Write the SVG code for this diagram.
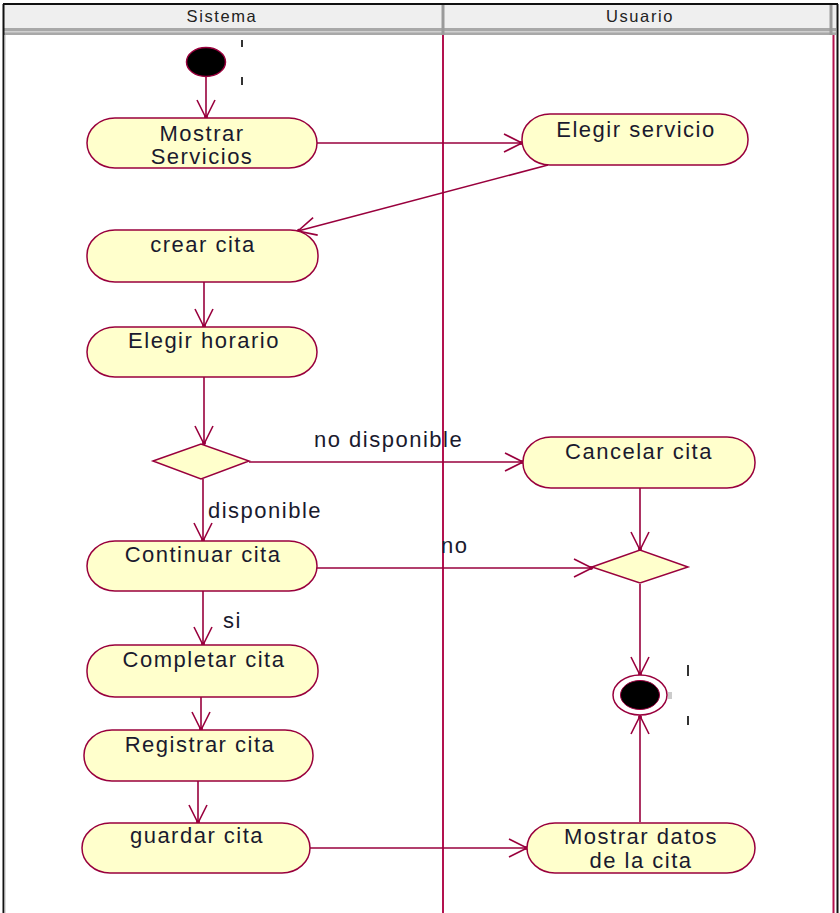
<svg xmlns="http://www.w3.org/2000/svg" width="840" height="913" viewBox="0 0 840 913">
  <style>
    .act { fill: #ffffcc; stroke: #99003d; stroke-width: 1.5; }
    .dec { fill: #ffffcc; stroke: #99003d; stroke-width: 1.5; }
    .lbl { font-family: "Liberation Sans", Arial, sans-serif; font-size: 22px; letter-spacing: 1.5px; fill: #1a1a2e; }
    .mid { text-anchor: middle; }
    .hdr { font-family: "Liberation Sans", Arial, sans-serif; font-size: 16.5px; letter-spacing: 1.6px; fill: #222; text-anchor: middle; }
    .flow { fill: none; stroke: #99003d; stroke-width: 1.6; }
    .tick { stroke: #333; stroke-width: 2; }
  </style>
  <defs>
    <marker id="open" markerUnits="userSpaceOnUse" markerWidth="24" markerHeight="24" viewBox="-20 -12 24 24" refX="0" refY="0" orient="auto">
      <path d="M-18,-9 L0,0 L-18,9" fill="none" stroke="#99003d" stroke-width="1.6"/>
      <circle cx="-1" cy="0" r="2" fill="#99003d"/>
    </marker>
  </defs>

  <rect width="840" height="913" fill="#ffffff"/>

  <!-- swimlane frame -->
  <g id="swimlanes">
    <rect x="4" y="5" width="832" height="24" fill="#efefef"/>
    <rect x="4" y="28" width="832" height="7" fill="#a8a8a8"/>
    <rect x="4" y="31" width="832" height="1.5" fill="#d0d0d0"/>
    <line x1="443" y1="5" x2="443" y2="35" stroke="#9a9a9a" stroke-width="3"/>
    <line x1="831" y1="5" x2="831" y2="35" stroke="#9a9a9a" stroke-width="3"/>
    <line x1="3" y1="4" x2="838" y2="4" stroke="#111" stroke-width="2"/>
    <line x1="3.5" y1="4" x2="3.5" y2="913" stroke="#111" stroke-width="2"/>
    <line x1="5" y1="35" x2="5" y2="913" stroke="#bbb" stroke-width="1"/>
    <line x1="837.5" y1="4" x2="837.5" y2="913" stroke="#111" stroke-width="2"/>
    <line x1="443" y1="35" x2="443" y2="913" stroke="#b3124f" stroke-width="2"/>
    <line x1="833.5" y1="35" x2="833.5" y2="913" stroke="#b3124f" stroke-width="2"/>
    <text class="hdr" x="222" y="22">Sistema</text>
    <text class="hdr" x="640" y="22">Usuario</text>
  </g>

  <!-- connectors -->
  <g id="connectors">
    <line class="flow" x1="206" y1="77" x2="206" y2="118" marker-end="url(#open)"/>
    <line class="flow" x1="317" y1="143" x2="522" y2="143" marker-end="url(#open)"/>
    <line class="flow" x1="548" y1="165" x2="298" y2="231" marker-end="url(#open)"/>
    <line class="flow" x1="204" y1="282" x2="204" y2="327" marker-end="url(#open)"/>
    <line class="flow" x1="204" y1="377" x2="204" y2="444" marker-end="url(#open)"/>
    <line class="flow" x1="249" y1="462" x2="523" y2="462" marker-end="url(#open)"/>
    <line class="flow" x1="203" y1="479" x2="203" y2="541" marker-end="url(#open)"/>
    <line class="flow" x1="317" y1="568" x2="592" y2="568" marker-end="url(#open)"/>
    <line class="flow" x1="640" y1="488" x2="640" y2="550" marker-end="url(#open)"/>
    <line class="flow" x1="640" y1="584" x2="640" y2="675" marker-end="url(#open)"/>
    <line class="flow" x1="203" y1="591" x2="203" y2="645" marker-end="url(#open)"/>
    <line class="flow" x1="201" y1="697" x2="201" y2="730" marker-end="url(#open)"/>
    <line class="flow" x1="198" y1="781" x2="198" y2="823" marker-end="url(#open)"/>
    <line class="flow" x1="310" y1="848" x2="527" y2="848" marker-end="url(#open)"/>
    <line class="flow" x1="640" y1="822" x2="640" y2="716" marker-end="url(#open)"/>
    <text class="lbl" x="314" y="447">no disponible</text>
    <text class="lbl" x="208" y="518">disponible</text>
    <text class="lbl" x="441" y="553">no</text>
    <text class="lbl" x="223" y="628">si</text>
  </g>

  <!-- start -->
  <g id="start">
    <ellipse cx="206" cy="62" rx="19.5" ry="14.5" fill="#000" stroke="#99003d" stroke-width="1.5"/>
    <line class="tick" x1="242" y1="40" x2="242" y2="47"/>
    <line class="tick" x1="242" y1="77" x2="242" y2="85"/>
  </g>

  <g id="mostrar_servicios">
    <rect class="act" x="87" y="118" width="230" height="50" rx="28" ry="25"/>
    <text class="lbl mid" x="202" y="141">Mostrar</text>
    <text class="lbl mid" x="202" y="164">Servicios</text>
  </g>

  <g id="elegir_servicio">
    <rect class="act" x="522" y="114" width="226" height="51" rx="28" ry="25"/>
    <text class="lbl mid" x="636" y="137">Elegir servicio</text>
  </g>

  <g id="crear_cita">
    <rect class="act" x="87" y="230" width="231" height="52" rx="28" ry="25"/>
    <text class="lbl mid" x="203" y="252">crear cita</text>
  </g>

  <g id="elegir_horario">
    <rect class="act" x="87" y="327" width="230" height="50" rx="28" ry="25"/>
    <text class="lbl mid" x="204" y="348">Elegir horario</text>
  </g>

  <g id="decision_horario">
    <polygon class="dec" points="153,461 201,444 249,461 201,479"/>
  </g>

  <g id="cancelar_cita">
    <rect class="act" x="523" y="437" width="232" height="51" rx="28" ry="25"/>
    <text class="lbl mid" x="639" y="459">Cancelar cita</text>
  </g>

  <g id="continuar_cita">
    <rect class="act" x="87" y="541" width="230" height="50" rx="28" ry="25"/>
    <text class="lbl mid" x="203" y="562">Continuar cita</text>
  </g>

  <g id="decision_continuar">
    <polygon class="dec" points="592,567 640,550 688,567 640,583"/>
  </g>

  <g id="end">
    <ellipse cx="640" cy="695" rx="27" ry="20" fill="#fff" stroke="#99003d" stroke-width="1.5"/>
    <ellipse cx="640" cy="695" rx="19.5" ry="14.5" fill="#000" stroke="#99003d" stroke-width="1"/>
    <line class="tick" x1="688" y1="665" x2="688" y2="676"/>
    <line class="tick" x1="688" y1="716" x2="688" y2="725"/>
    <line x1="669" y1="692" x2="669" y2="699" stroke="#999" stroke-width="1"/>
    <line x1="671" y1="692" x2="671" y2="699" stroke="#999" stroke-width="1"/>
  </g>

  <g id="completar_cita">
    <rect class="act" x="87" y="645" width="231" height="52" rx="28" ry="25"/>
    <text class="lbl mid" x="204" y="667">Completar cita</text>
  </g>

  <g id="registrar_cita">
    <rect class="act" x="84" y="730" width="229" height="51" rx="28" ry="25"/>
    <text class="lbl mid" x="200" y="752">Registrar cita</text>
  </g>

  <g id="guardar_cita">
    <rect class="act" x="82" y="823" width="228" height="50" rx="28" ry="25"/>
    <text class="lbl mid" x="197" y="843">guardar cita</text>
  </g>

  <g id="mostrar_datos">
    <rect class="act" x="527" y="823" width="228" height="50" rx="28" ry="25"/>
    <text class="lbl mid" x="641" y="844">Mostrar datos</text>
    <text class="lbl mid" x="641" y="868">de la cita</text>
  </g>
</svg>
